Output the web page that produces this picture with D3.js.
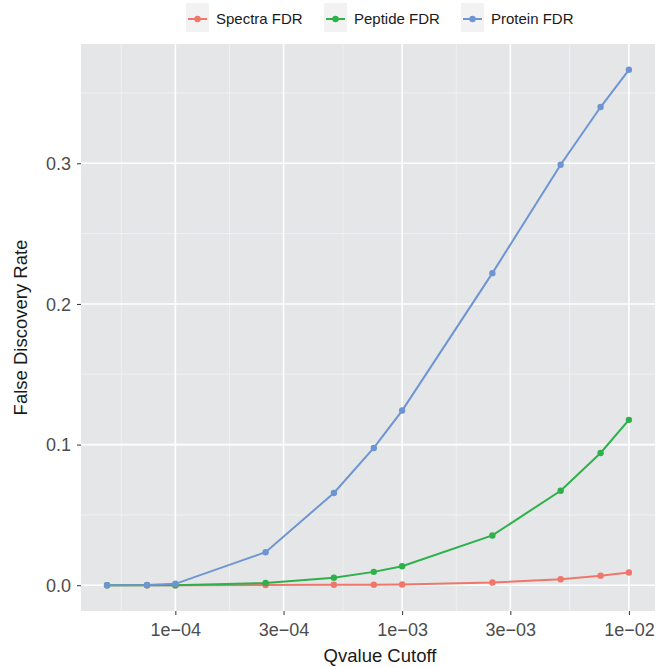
<!DOCTYPE html>
<html>
<head>
<meta charset="utf-8">
<script src="https://cdn.jsdelivr.net/npm/d3@7"></script>
<style>
  body { margin: 0; background: #fff; }
  text { font-family: "Liberation Sans", Arial, sans-serif; }
</style>
</head>
<body>
<div id="chart"></div>
<script>
// qvalue cutoffs (x) and FDR per level
const cutoffs = [5e-5, 7.5e-5, 1e-4, 2.5e-4, 5e-4, 7.5e-4, 1e-3, 2.5e-3, 5e-3, 7.5e-3, 1e-2];
const spectraFDR = [0, 0, 0, 0.0002, 0.0003, 0.0004, 0.0005, 0.0019, 0.0043, 0.0068, 0.009];
const peptideFDR = [0, 0, 0, 0.0016, 0.0054, 0.0095, 0.0135, 0.0354, 0.0672, 0.094, 0.1176];
const proteinFDR = [0, 0.0002, 0.001, 0.0235, 0.0656, 0.0976, 0.1242, 0.2219, 0.299, 0.340, 0.3665];
const seriesNames = ["Spectra FDR", "Peptide FDR", "Protein FDR"];
const seriesColors = ["#F0766A", "#2DB14A", "#6E95D3"];
const xTicks = [1e-4, 3e-4, 1e-3, 3e-3, 1e-2];
const xTickLabels = ["1e\u221204", "3e\u221204", "1e\u221203", "3e\u221203", "1e\u221202"];
const yTicks = [0, 0.1, 0.2, 0.3];
const yMinor = [0.05, 0.15, 0.25, 0.35];

const width = 656, height = 667;
const margin = {top: 44, right: 1, bottom: 56, left: 81};
const pw = width - margin.left - margin.right;
const ph = height - margin.top - margin.bottom;

const svg = d3.select("#chart").append("svg")
    .attr("width", width)
    .attr("height", height);

// ggplot-style 5% expansion
const lx = cutoffs.map(Math.log10);
const lxPad = (d3.max(lx) - d3.min(lx)) * 0.05;
const x = d3.scaleLog()
    .domain([Math.pow(10, d3.min(lx) - lxPad), Math.pow(10, d3.max(lx) + lxPad)])
    .range([0, pw]);

const yMax = d3.max(proteinFDR);
const y = d3.scaleLinear()
    .domain([-yMax * 0.05, yMax * 1.05])
    .range([ph, 0]);

const g = svg.append("g")
    .attr("transform", "translate(" + margin.left + "," + margin.top + ")");

// panel
g.append("rect")
    .attr("width", pw)
    .attr("height", ph)
    .attr("fill", "#E5E6E8");

// minor x breaks: midpoints in log space between majors (plus one before first)
const lt = xTicks.map(Math.log10);
const xMinor = [lt[0] - (lt[1] - lt[0]) / 2];
for (let i = 0; i < lt.length - 1; i++) xMinor.push((lt[i] + lt[i + 1]) / 2);

g.selectAll(".xminor").data(xMinor).enter().append("line")
    .attr("x1", d => x(Math.pow(10, d))).attr("x2", d => x(Math.pow(10, d)))
    .attr("y1", 0).attr("y2", ph)
    .attr("stroke", "#F4F4F5").attr("stroke-width", 0.8);

g.selectAll(".yminor").data(yMinor).enter().append("line")
    .attr("x1", 0).attr("x2", pw)
    .attr("y1", d => y(d)).attr("y2", d => y(d))
    .attr("stroke", "#F4F4F5").attr("stroke-width", 0.8);

g.selectAll(".xmajor").data(xTicks).enter().append("line")
    .attr("x1", d => x(d)).attr("x2", d => x(d))
    .attr("y1", 0).attr("y2", ph)
    .attr("stroke", "#fff").attr("stroke-width", 1.6);

g.selectAll(".ymajor").data(yTicks).enter().append("line")
    .attr("x1", 0).attr("x2", pw)
    .attr("y1", d => y(d)).attr("y2", d => y(d))
    .attr("stroke", "#fff").attr("stroke-width", 1.6);

// axes
const xAxis = g.append("g")
    .attr("transform", "translate(0," + ph + ")")
    .call(d3.axisBottom(x).tickValues(xTicks).tickFormat((d, i) => xTickLabels[i]).tickSize(4).tickPadding(4));
const yAxis = g.append("g")
    .call(d3.axisLeft(y).tickValues(yTicks).tickFormat(d3.format(".1f")).tickSize(4).tickPadding(6));

[xAxis, yAxis].forEach(a => {
    a.select(".domain").remove();
    a.selectAll(".tick line").attr("stroke", "#333").attr("stroke-width", 1);
    a.selectAll(".tick text")
        .attr("fill", "#4D4D4D")
        .style("font-size", "18px")
        .style("font-family", "'Liberation Sans', Arial, sans-serif");
});
xAxis.selectAll(".tick text").attr("y", 25).attr("dy", null);
yAxis.selectAll(".tick text").attr("dy", "0.35em");

// series
const series = [spectraFDR, peptideFDR, proteinFDR].map((vals, i) => ({
    name: seriesNames[i],
    color: seriesColors[i],
    values: vals.map((v, j) => ({q: cutoffs[j], fdr: v}))
}));

const line = d3.line()
    .x(d => x(d.q))
    .y(d => y(d.fdr));

series.forEach(s => {
    g.append("path")
        .datum(s.values)
        .attr("fill", "none")
        .attr("stroke", s.color)
        .attr("stroke-width", 2)
        .attr("d", line);
    g.selectAll(null).data(s.values).enter().append("circle")
        .attr("cx", d => x(d.q))
        .attr("cy", d => y(d.fdr))
        .attr("r", 3.2)
        .attr("fill", s.color);
});

// axis titles
svg.append("text")
    .attr("x", 380)
    .attr("y", 662)
    .attr("text-anchor", "middle")
    .attr("fill", "#1a1a1a")
    .style("font-size", "18.5px")
    .text("Qvalue Cutoff");

svg.append("text")
    .attr("transform", "translate(27," + (margin.top + ph / 2) + ") rotate(-90)")
    .attr("text-anchor", "middle")
    .attr("fill", "#1a1a1a")
    .style("font-size", "18.5px")
    .text("False Discovery Rate");

// legend
const legendX = [186, 324, 461];
const legend = svg.append("g");
series.forEach((s, i) => {
    const lg = legend.append("g").attr("transform", "translate(" + legendX[i] + ",3)");
    lg.append("rect")
        .attr("width", 23).attr("height", 29)
        .attr("fill", "#F2F2F2");
    lg.append("line")
        .attr("x1", 2).attr("x2", 21)
        .attr("y1", 16).attr("y2", 16)
        .attr("stroke", s.color).attr("stroke-width", 2);
    lg.append("circle")
        .attr("cx", 11.5).attr("cy", 16).attr("r", 3.2)
        .attr("fill", s.color);
    lg.append("text")
        .attr("x", 30).attr("y", 21)
        .attr("fill", "#1a1a1a")
        .style("font-size", "15px")
        .text(s.name);
});
</script>
</body>
</html>
